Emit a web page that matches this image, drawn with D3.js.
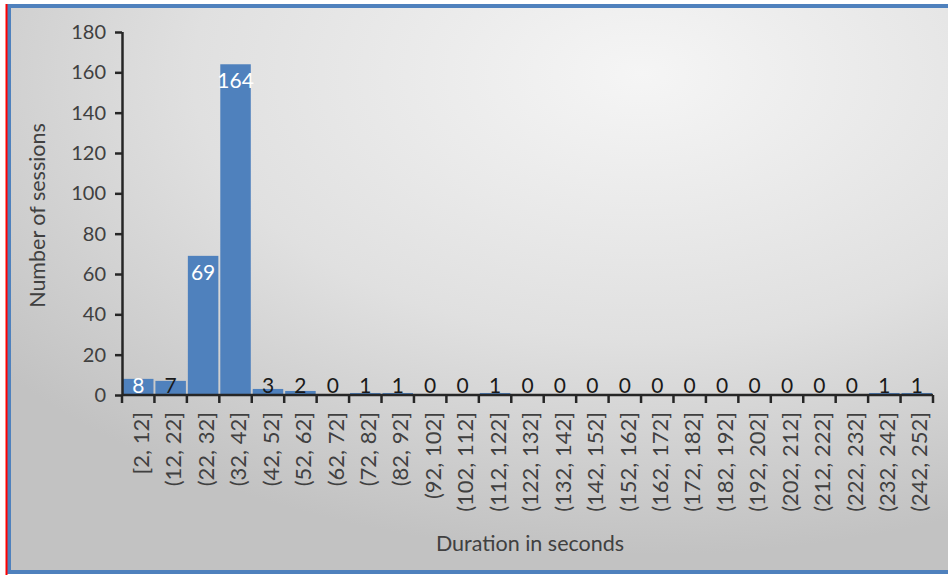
<!DOCTYPE html>
<html>
<head>
<meta charset="utf-8">
<script src="https://cdn.jsdelivr.net/npm/d3@7"></script>
<style>
  html, body { margin: 0; padding: 0; background: #fff; }
  svg { display: block; }
  text { font-family: Lato, "Open Sans", sans-serif; }
</style>
</head>
<body>
<svg id="chart" width="948" height="575"></svg>
<script>
// Session duration histogram: number of sessions per 10-second bin
const categories = [
  "[2, 12]", "(12, 22]", "(22, 32]", "(32, 42]", "(42, 52]", "(52, 62]",
  "(62, 72]", "(72, 82]", "(82, 92]", "(92, 102]", "(102, 112]", "(112, 122]",
  "(122, 132]", "(132, 142]", "(142, 152]", "(152, 162]", "(162, 172]",
  "(172, 182]", "(182, 192]", "(192, 202]", "(202, 212]", "(212, 222]",
  "(222, 232]", "(232, 242]", "(242, 252]"
];
const sessions = [8, 7, 69, 164, 3, 2, 0, 1, 1, 0, 0, 1, 0, 0, 0, 0, 0, 0, 0, 0, 0, 0, 0, 1, 1];
const yTicks = [0, 20, 40, 60, 80, 100, 120, 140, 160, 180];
const yTitle = "Number of sessions";
const xTitle = "Duration in seconds";

const svg = d3.select("#chart");
const W = 948, H = 575;
const margin = { left: 122, top: 32 };
const plotW = 933 - margin.left;
const y0 = 395;

// Background: soft radial grey gradient inside a blue frame
const defs = svg.append("defs");
const grad = defs.append("radialGradient")
  .attr("id", "bg")
  .attr("cx", "0.66").attr("cy", "0.12").attr("r", "0.85")
  .attr("gradientUnits", "objectBoundingBox");
grad.append("stop").attr("offset", "0").attr("stop-color", "#f5f5f5");
grad.append("stop").attr("offset", "0.55").attr("stop-color", "#e0e0e0");
grad.append("stop").attr("offset", "1").attr("stop-color", "#c2c2c2");

svg.append("rect").attr("x", 0).attr("y", 0).attr("width", W).attr("height", H).attr("fill", "#ffffff");
svg.append("rect")
  .attr("x", 9).attr("y", 6).attr("width", W + 10).attr("height", 566)
  .attr("fill", "url(#bg)")
  .attr("stroke", "#4f81bd").attr("stroke-width", 4);
svg.append("rect")
  .attr("x", 5.5).attr("y", 4).attr("width", 2).attr("height", H - 4)
  .attr("fill", "#ff0000");

// Scales
const x = d3.scaleBand()
  .domain(categories)
  .range([margin.left, margin.left + plotW])
  .paddingInner(0.06)
  .paddingOuter(0.03);
const y = d3.scaleLinear()
  .domain([0, 180])
  .range([y0, margin.top]);

// Bars
svg.append("g")
  .selectAll("rect")
  .data(sessions)
  .join("rect")
  .attr("x", (d, i) => x(categories[i]))
  .attr("y", d => y(d))
  .attr("width", x.bandwidth())
  .attr("height", d => y0 - y(d))
  .attr("fill", "#4f81bd");

// Data labels: inside the bar top, clamped above the axis for short bars
svg.append("g")
  .selectAll("text")
  .data(sessions)
  .join("text")
  .attr("x", (d, i) => x(categories[i]) + x.bandwidth() / 2)
  .attr("y", d => Math.min(y(d) + 24, y0 - 2))
  .attr("text-anchor", "middle")
  .attr("font-size", 21)
  .attr("fill", d => d >= 8 ? "#ffffff" : "#1a1a1a")
  .text(d => d);

// Y axis
const yAxis = svg.append("g")
  .attr("transform", `translate(${margin.left},0)`)
  .call(d3.axisLeft(y).tickValues(yTicks).tickSize(7).tickSizeOuter(0).tickPadding(9));
yAxis.select(".domain").attr("stroke", "#262626").attr("stroke-width", 2.5)
  .attr("d", `M0.5,${y(180)}V${y0}`);
yAxis.selectAll(".tick line").attr("stroke", "#262626").attr("stroke-width", 2.5);
yAxis.selectAll(".tick text").attr("font-size", 20).attr("fill", "#404040")
  .style("font-family", "Lato, sans-serif");

// X axis: tick marks on the bin boundaries
const boundaries = d3.range(categories.length + 1).map(i => margin.left + i * plotW / categories.length);
const xAxis = svg.append("g");
xAxis.append("line")
  .attr("x1", margin.left).attr("x2", margin.left + plotW)
  .attr("y1", y0).attr("y2", y0)
  .attr("stroke", "#262626").attr("stroke-width", 2.5);
xAxis.selectAll("line.tk")
  .data(boundaries)
  .join("line")
  .attr("class", "tk")
  .attr("x1", d => d).attr("x2", d => d)
  .attr("y1", y0).attr("y2", y0 + 8)
  .attr("stroke", "#262626").attr("stroke-width", 2.5);
xAxis.selectAll("text")
  .data(categories)
  .join("text")
  .attr("transform", d => `translate(${x(d) + x.bandwidth() / 2 + 3},${y0 + 17}) rotate(-90)`)
  .attr("text-anchor", "end")
  .attr("dy", "0.35em")
  .attr("font-size", 22)
  .attr("fill", "#404040")
  .text(d => d);

// Axis titles
svg.append("text")
  .attr("transform", `translate(45,${(y(180) + y0) / 2 + 2}) rotate(-90)`)
  .attr("text-anchor", "middle")
  .attr("font-size", 21.5)
  .attr("fill", "#404040")
  .text(yTitle);
svg.append("text")
  .attr("x", 530).attr("y", 551)
  .attr("text-anchor", "middle")
  .attr("font-size", 21.5)
  .attr("fill", "#404040")
  .text(xTitle);
</script>
</body>
</html>
